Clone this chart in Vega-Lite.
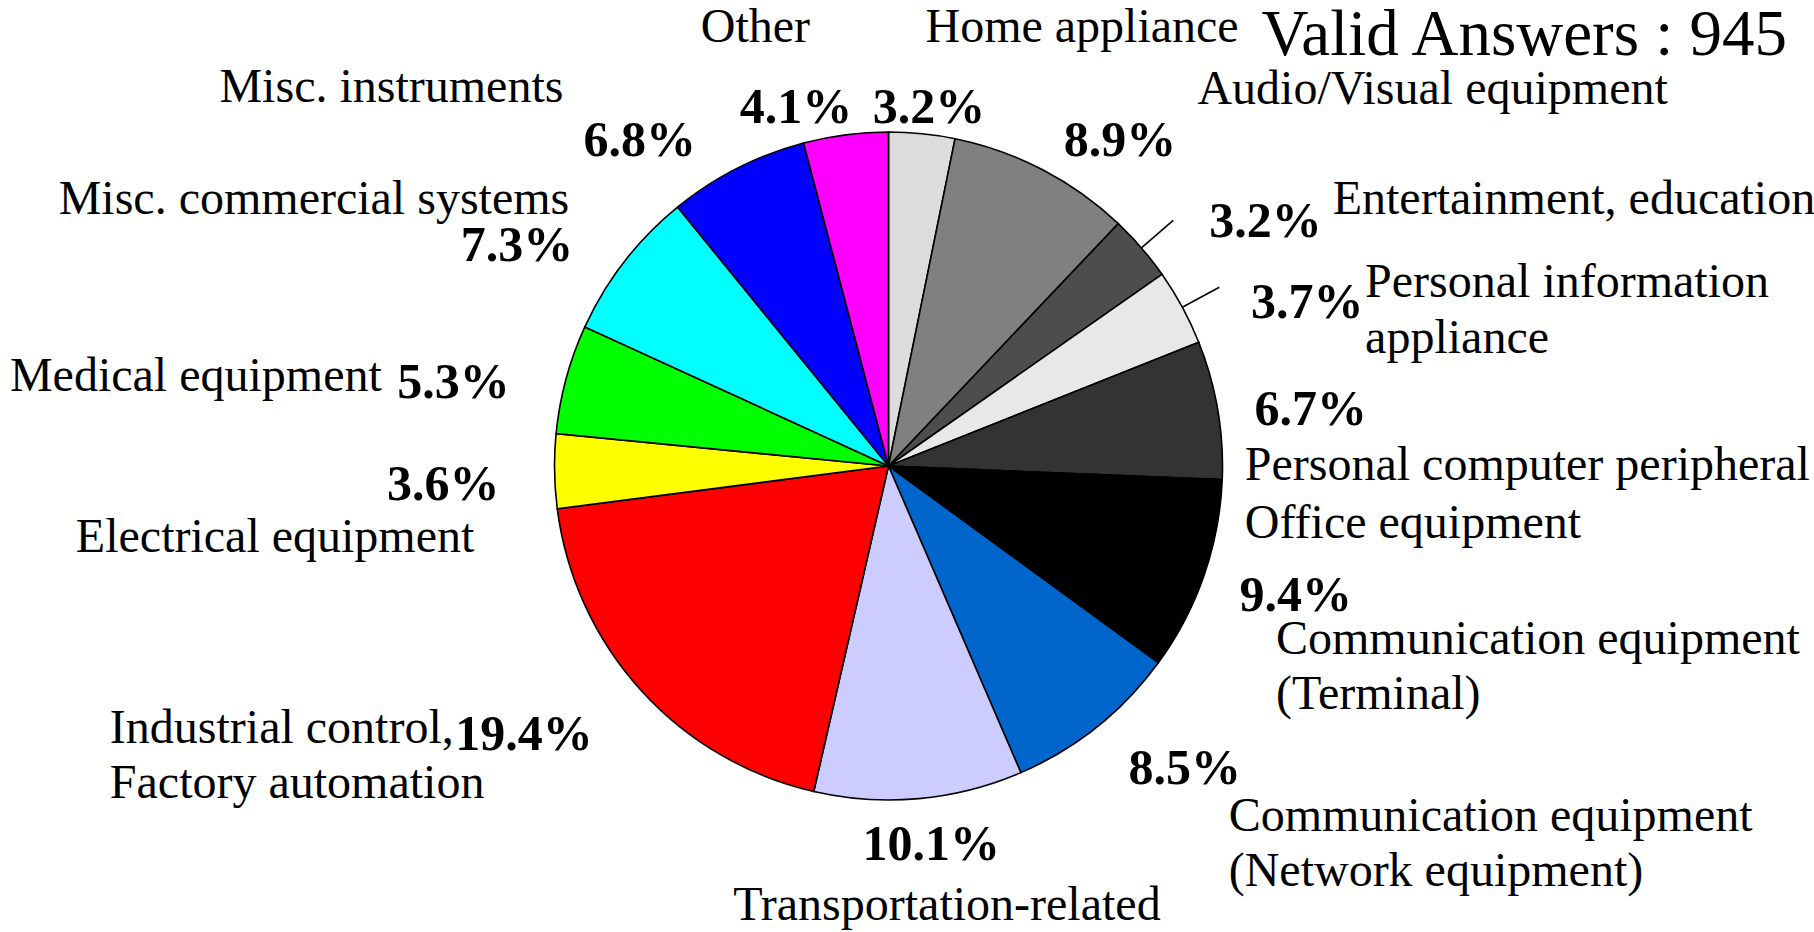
{
  "$schema": "https://vega.github.io/schema/vega-lite/v6.json",
  "width": 1777,
  "height": 932,
  "autosize": {"type": "none"},
  "padding": {"left": 0, "top": 0, "right": 37, "bottom": 0},
  "background": "white",
  "config": {"view": {"stroke": null}},
  "title": {
    "text": "Valid Answers : 945",
    "anchor": "end",
    "frame": "group",
    "orient": "top",
    "baseline": "alphabetic",
    "offset": -60,
    "dy": 60,
    "dx": 10,
    "font": "Liberation Serif",
    "fontSize": 65,
    "fontWeight": "normal",
    "color": "black"
  },
  "data": {
    "values": [
      {"k": 1, "label": "Home appliance", "label2": "", "share": 0.032},
      {"k": 2, "label": "Audio/Visual equipment", "label2": "", "share": 0.089},
      {"k": 3, "label": "Entertainment, education", "label2": "", "share": 0.032},
      {"k": 4, "label": "Personal information\nappliance", "label2": "", "share": 0.037},
      {"k": 5, "label": "Personal computer peripheral", "label2": "Office equipment", "share": 0.067},
      {"k": 6, "label": "Communication equipment\n(Terminal)", "label2": "", "share": 0.094},
      {"k": 7, "label": "Communication equipment\n(Network equipment)", "label2": "", "share": 0.085},
      {"k": 8, "label": "Transportation-related", "label2": "", "share": 0.101},
      {"k": 9, "label": "Industrial control,\nFactory automation", "label2": "", "share": 0.194},
      {"k": 10, "label": "Electrical equipment", "label2": "", "share": 0.036},
      {"k": 11, "label": "Medical equipment", "label2": "", "share": 0.053},
      {"k": 12, "label": "Misc. commercial systems", "label2": "", "share": 0.073},
      {"k": 13, "label": "Misc. instruments", "label2": "", "share": 0.068},
      {"k": 14, "label": "Other", "label2": "", "share": 0.041}
    ]
  },
  "encoding": {
    "theta": {"field": "share", "type": "quantitative", "stack": true},
    "order": {"field": "k", "type": "quantitative", "sort": "ascending"}
  },
  "layer": [
    {
      "mark": {"type": "arc", "outerRadius": 334, "stroke": "black", "strokeWidth": 1.6},
      "encoding": {
        "color": {
          "field": "k",
          "type": "nominal",
          "legend": null,
          "scale": {
            "domain": [1, 2, 3, 4, 5, 6, 7, 8, 9, 10, 11, 12, 13, 14],
            "range": ["#dcdcdc", "#808080", "#4d4d4d", "#e8e8e8", "#333333", "#000000", "#0066cc", "#ccccff", "#ff0000", "#ffff00", "#00ff00", "#00ffff", "#0000ff", "#ff00ff"]
          }
        }
      }
    },
    {
      "mark": {"type": "arc", "innerRadius": 334, "outerRadius": 376, "padAngle": 3, "fill": null, "stroke": "black", "strokeWidth": 1.6},
      "encoding": {
        "strokeOpacity": {"condition": {"test": "datum.k == 3 || datum.k == 4", "value": 1}, "value": 0}
      }
    },
    {
      "mark": {
        "type": "text",
        "radius": 400,
        "align": "center",
        "baseline": "alphabetic",
        "font": "Liberation Serif",
        "fontSize": 50,
        "fontWeight": "bold",
        "color": "black",
        "dx": {"expr": "[0.4,46.8,74.2,66.9,28,29.5,46.6,6.5,-68.2,-45.4,-48.8,-55,-67.4,-41.3][datum.k-1]"},
        "dy": {"expr": "[54.6,45,32.4,42.2,26,13.1,5.8,-4.8,14.9,27.5,36.1,40.2,46.8,53.3][datum.k-1]"}
      },
      "encoding": {
        "text": {"field": "share", "type": "quantitative", "format": ".1%"}
      }
    },
    {
      "mark": {
        "type": "text",
        "radius": 400,
        "baseline": "alphabetic",
        "lineBreak": "\n",
        "lineHeight": 55.5,
        "font": "Liberation Serif",
        "fontSize": 48,
        "color": "black",
        "align": {"expr": "(datum.k==8||datum.k==14) ? 'center' : ((datum.k>=10&&datum.k<=13) ? 'right' : 'left')"},
        "dx": {"expr": "[-3.1,124.3,141.3,124.7,-38,9.8,90.5,22.1,-482.4,-14.2,-120.5,-2.9,-143.8,-81.8][datum.k-1]"},
        "dy": {"expr": "[-26.4,-7.1,9.2,21.4,81.5,55.9,52,55.3,7.9,79.5,29.1,-7.3,-7.6,-27.7][datum.k-1]"}
      },
      "encoding": {
        "text": {"field": "label", "type": "nominal"}
      }
    },
    {
      "mark": {
        "type": "text",
        "radius": 400,
        "baseline": "alphabetic",
        "align": "left",
        "font": "Liberation Serif",
        "fontSize": 48,
        "color": "black",
        "dx": -38,
        "dy": 139.4
      },
      "encoding": {
        "text": {"field": "label2", "type": "nominal"}
      }
    }
  ]
}
